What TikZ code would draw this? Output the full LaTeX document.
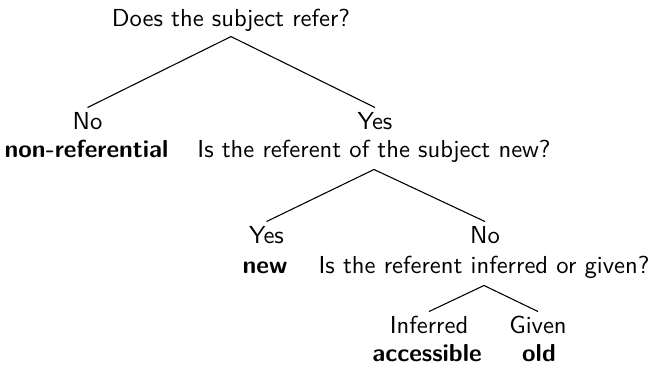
\documentclass[tikz,border=0pt]{standalone}
\usepackage{fontspec}
\begin{document}
\sffamily
\begin{tikzpicture}[x=0.4167pt, y=-0.4167pt,
  every node/.style={inner sep=0pt, anchor=base, font=\fontsize{10.25}{12}\selectfont\sffamily},
  ask/.style={text depth=5pt},
  answer/.style={text height=8.75pt},
  verdict/.style={font=\fontsize{10.25}{12}\selectfont\sffamily\bfseries},
  branch/.style={line width=0.45pt}]
  \useasboundingbox (0,0) rectangle (651,365);

  % first question
  \node[ask, text depth=4.2pt] (q0) at (231,26) {Does the subject refer?};
  \node[answer] (a1) at (87.5,129) {No};
  \node[verdict] (l1) at (86.5,157) {non-referential};
  \node[answer] (a2) at (375,129) {Yes};
  \node[ask] (q1) at (374,157) {Is the referent of the subject new?};

  % second question
  \node[answer] (a3) at (266.5,243) {Yes};
  \node[verdict] (l3) at (265,273) {new};
  \node[answer] (a4) at (485,243) {No};
  \node[ask] (q2) at (484,273) {Is the referent inferred or given?};

  % third question
  \node[answer] (a5) at (429,333) {Inferred};
  \node[verdict] (l5) at (427,361) {accessible};
  \node[answer] (a6) at (538,333) {Given};
  \node[verdict] (l6) at (539,361) {old};

  \draw[branch] (a1.north) -- (q0.south) -- (a2.north);
  \draw[branch] (a3.north) -- (q1.south) -- (a4.north);
  \draw[branch] (a5.north) -- (q2.south) -- (a6.north);
\end{tikzpicture}
\end{document}
